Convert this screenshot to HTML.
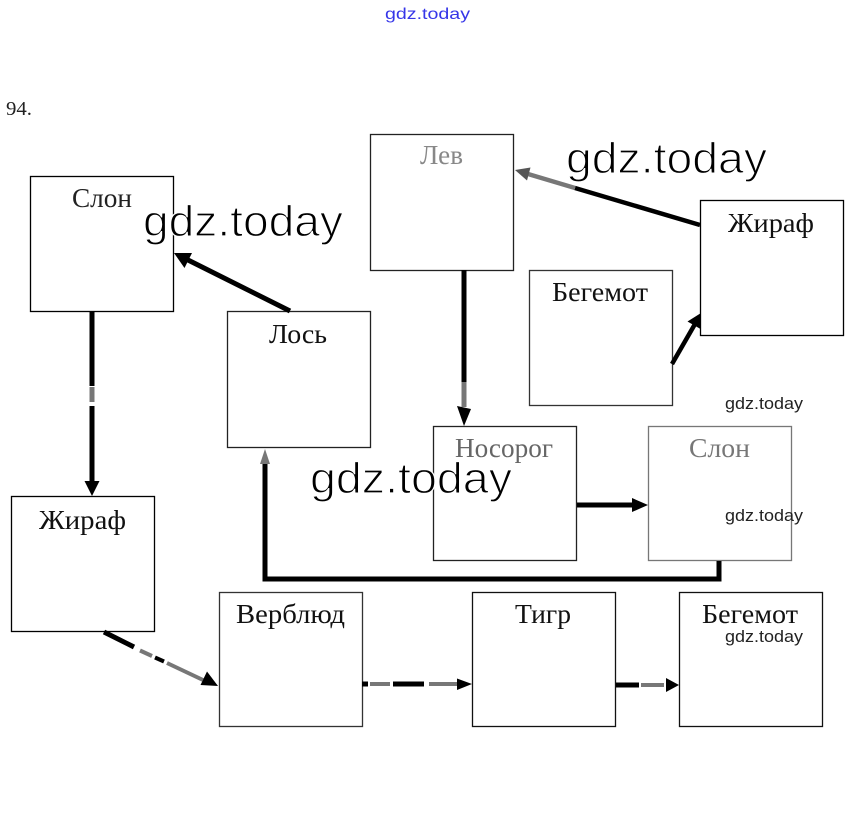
<!DOCTYPE html>
<html>
<head>
<meta charset="utf-8">
<style>
html,body{margin:0;padding:0;background:#fff;}
svg{display:block;}
.lbl{font-family:"Liberation Serif","DejaVu Serif",serif;font-size:27px;}
.wm{font-family:"Liberation Sans","DejaVu Sans",sans-serif;}
</style>
</head>
<body>
<svg width="854" height="829" viewBox="0 0 854 829" xmlns="http://www.w3.org/2000/svg">
<rect x="0" y="0" width="854" height="829" fill="#fff"/>

<text class="wm" x="385" y="19" font-size="16" fill="#3535e8" textLength="85" lengthAdjust="spacingAndGlyphs">gdz.today</text>

<text x="6" y="115" font-family="Liberation Serif, serif" font-size="20" fill="#222" textLength="26" lengthAdjust="spacingAndGlyphs">94.</text>

<g fill="none" stroke-width="1.3">
<rect x="30.5" y="176.5" width="143" height="135" stroke="#000"/>
<rect x="370.5" y="134.5" width="143" height="136" stroke="#222"/>
<rect x="700.5" y="200.5" width="143" height="135" stroke="#000"/>
<rect x="529.5" y="270.5" width="143" height="135" stroke="#333"/>
<rect x="227.5" y="311.5" width="143" height="136" stroke="#222"/>
<rect x="433.5" y="426.5" width="143" height="134" stroke="#222"/>
<rect x="648.5" y="426.5" width="143" height="134" stroke="#777"/>
<rect x="11.5" y="496.5" width="143" height="135" stroke="#000"/>
<rect x="219.5" y="592.5" width="143" height="134" stroke="#333"/>
<rect x="472.5" y="592.5" width="143" height="134" stroke="#111"/>
<rect x="679.5" y="592.5" width="143" height="134" stroke="#111"/>
</g>

<text class="lbl" x="72" y="207" fill="#222" textLength="60" lengthAdjust="spacingAndGlyphs">Слон</text>
<text class="lbl" x="420" y="164" fill="#888" textLength="43" lengthAdjust="spacingAndGlyphs">Лев</text>
<text class="lbl" x="728" y="232" fill="#111" textLength="86" lengthAdjust="spacingAndGlyphs">Жираф</text>
<text class="lbl" x="552" y="301" fill="#111" textLength="96" lengthAdjust="spacingAndGlyphs">Бегемот</text>
<text class="lbl" x="269" y="343" fill="#111" textLength="58" lengthAdjust="spacingAndGlyphs">Лось</text>
<text class="lbl" x="39" y="529" fill="#111" textLength="87" lengthAdjust="spacingAndGlyphs">Жираф</text>
<text class="lbl" x="455" y="457" fill="#666" textLength="98" lengthAdjust="spacingAndGlyphs">Носорог</text>
<text class="lbl" x="689" y="457" fill="#777" textLength="61" lengthAdjust="spacingAndGlyphs">Слон</text>
<text class="lbl" x="236" y="623" fill="#111" textLength="109" lengthAdjust="spacingAndGlyphs">Верблюд</text>
<text class="lbl" x="515" y="623" fill="#111" textLength="56" lengthAdjust="spacingAndGlyphs">Тигр</text>
<text class="lbl" x="702" y="623" fill="#111" textLength="96" lengthAdjust="spacingAndGlyphs">Бегемот</text>

<g stroke-linecap="butt" fill="none">
<line x1="92" y1="312" x2="92" y2="386" stroke="#000" stroke-width="5"/>
<line x1="92" y1="387" x2="92" y2="402" stroke="#777" stroke-width="5"/>
<line x1="92" y1="406" x2="92" y2="483" stroke="#000" stroke-width="5"/>
<line x1="290" y1="311" x2="187" y2="259.5" stroke="#000" stroke-width="5"/>
<line x1="700" y1="225" x2="575" y2="188" stroke="#000" stroke-width="4.5"/>
<line x1="575" y1="188" x2="528" y2="174" stroke="#777" stroke-width="4.5"/>
<line x1="672" y1="364" x2="695" y2="324" stroke="#000" stroke-width="4.5"/>
<line x1="464" y1="270" x2="464" y2="382" stroke="#000" stroke-width="5"/>
<line x1="464" y1="382" x2="464" y2="407" stroke="#777" stroke-width="5"/>
<line x1="577" y1="505" x2="634" y2="505" stroke="#000" stroke-width="5"/>
<polyline points="719,561 719,579 265,579 265,463" stroke="#000" stroke-width="5"/>
<line x1="104" y1="632" x2="134" y2="647" stroke="#000" stroke-width="5"/>
<line x1="140" y1="650.5" x2="152" y2="656" stroke="#777" stroke-width="4"/>
<line x1="155" y1="657.5" x2="164" y2="661.5" stroke="#000" stroke-width="4"/>
<line x1="167" y1="663" x2="203" y2="680" stroke="#777" stroke-width="4"/>
<line x1="362" y1="684" x2="368" y2="684" stroke="#000" stroke-width="5"/>
<line x1="370" y1="684" x2="390" y2="684" stroke="#777" stroke-width="4"/>
<line x1="393" y1="684" x2="424" y2="684" stroke="#000" stroke-width="5"/>
<line x1="429" y1="684" x2="457" y2="684" stroke="#777" stroke-width="4"/>
<line x1="616" y1="685" x2="639" y2="685" stroke="#000" stroke-width="5"/>
<line x1="641" y1="685" x2="664" y2="685" stroke="#777" stroke-width="4"/>
</g>

<g stroke="none">
<polygon points="92,496 84.5,481 99.5,481" fill="#000"/>
<polygon points="174,253 192,253 184.5,268" fill="#000"/>
<polygon points="515,170 530.5,167.5 527,180.5" fill="#555"/>
<polygon points="701,313 700.5,329 687.5,321.5" fill="#000"/>
<polygon points="464,426 457,406 471,409" fill="#000"/>
<polygon points="648,505 632,498 632,512" fill="#000"/>
<polygon points="265,449 260,464 270,464" fill="#777"/>
<polygon points="218,686 200.5,685 207,671.5" fill="#000"/>
<polygon points="472,684 457,678.5 457,690" fill="#000"/>
<polygon points="679,685 666,678 666,692" fill="#000"/>
</g>

<g class="wm" fill="#000">
<text x="143" y="236" font-size="44" stroke="#fff" stroke-width="1.2" textLength="200" lengthAdjust="spacingAndGlyphs">gdz.today</text>
<text x="566" y="173" font-size="44" stroke="#fff" stroke-width="1.2" textLength="201" lengthAdjust="spacingAndGlyphs">gdz.today</text>
<text x="310" y="493" font-size="44" stroke="#fff" stroke-width="1.2" textLength="202" lengthAdjust="spacingAndGlyphs">gdz.today</text>
<text x="725" y="409" font-size="17" fill="#222" textLength="78" lengthAdjust="spacingAndGlyphs">gdz.today</text>
<text x="725" y="521" font-size="17" fill="#222" textLength="78" lengthAdjust="spacingAndGlyphs">gdz.today</text>
<text x="725" y="642" font-size="17" fill="#222" textLength="78" lengthAdjust="spacingAndGlyphs">gdz.today</text>
</g>
</svg>
</body>
</html>
